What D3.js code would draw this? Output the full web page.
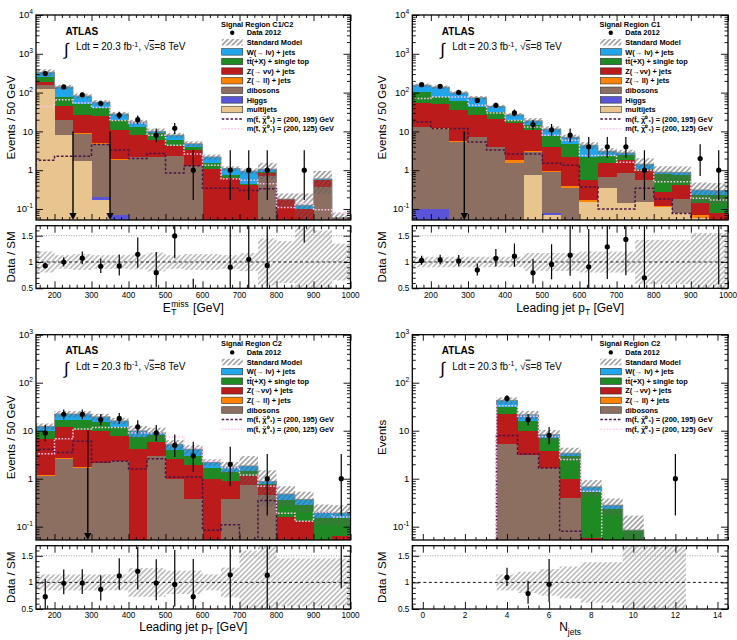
<!DOCTYPE html>
<html><head><meta charset="utf-8">
<script src="https://cdn.jsdelivr.net/npm/d3@7"></script>
<style>body{margin:0;background:#fff}svg{display:block}text{font-family:"Liberation Sans",Arial,sans-serif}</style>
</head><body><svg id="c" width="737" height="640"></svg>
<script>
// ---------------- DATA ----------------
const etEdges = [150,200,250,300,350,400,450,500,550,600,650,700,750,800,850,900,950,1000];
const njEdges = [3.5,4.5,5.5,6.5,7.5,8.5,9.5,10.5,11.5,12.5];

// Panel A: Signal Region C1/C2, E_T^miss
const A_multijets = [125,7.9,1.7,0.17,0,0,0,0,0,0,0,0,0,0,0,0,0];
const A_higgs     = [0,0,0,0.03,0.07,0,0,0,0,0,0,0,0,0,0,0,0];
const A_dibosons  = [28,11.4,7.1,4.6,1.8,2.2,2.2,2.3,1.3,0,0,0,0.7,0,0,0.37,0.06];
const A_zll       = [0.5,0.3,0.2,0.1,0.05,0.05,0.03,0.02,0.02,0,0,0,0,0,0,0,0];
const A_zvv       = [34,25,17,19.7,9.2,5.7,3.7,1.8,2.0,1.1,0.62,0.41,0.15,0.18,0.1,0.2,0];
const A_ttbar     = [70,33,24,16.5,9,5,2.9,2.0,0.7,0.45,0.15,0.04,0.07,0,0,0,0];
const A_wjets     = [76,62.7,32,15.5,8,4.5,1.2,1.9,0.8,0.65,0.34,0.5,0.15,0,0.025,0.03,0];
const A_data      = [310,140,88,52,26,20,8,12,1,0,1,1,1,0,1,0,0];
const A_unc       = [0.2,0.13,0.15,0.13,0.13,0.14,0.18,0.13,0.15,0.15,0.13,0.17,0.45,0.4,1.0,0.6,0.35];
const A_sig195    = [1.8,2.3,2.3,4.6,3.3,2.0,2.7,0.85,1.3,0.34,0.34,0.3,0.33,0,0,0,0];
const A_sig125    = [44,65,54,41,19,16.5,8,4.4,2.6,1.35,0.6,0.55,0.45,0.11,0.14,0.095,0.077];
const A_arrows    = [250,350];
const A_arrowTop  = [10,10];

// Panel B: Signal Region C1, leading jet pT
const B_multijets = [0,0,0,0,0,0,0.74,0.07,0,0.15,0.35,0.14,0.15,0.11,0.08,0.06,0];
const B_higgs     = [0.1,0.1,0,0,0,0,0,0.01,0,0,0,0,0,0,0,0,0];
const B_dibosons  = [12.9,11.6,5.2,7,3.9,1.55,2.26,0.8,0.35,0,0.32,0.71,0.4,0,0.1,0,0];
const B_zll       = [0.3,0.3,0.4,0.2,0.1,0.25,0.05,0.05,0.03,0.02,0,0,0,0.01,0,0.01,0];
const B_zvv       = [42,40,29.4,19,17,14.2,7.5,3.1,1.8,0.38,0.9,0.95,0.45,0.15,0.24,0.07,0.08];
const B_ttbar     = [48,25,25,16,10.5,4,3.7,3.5,2.5,1.65,0.8,0.6,0.1,0.54,0.33,0.09,0.15];
const B_wjets     = [52,62,39,32,12.5,7,4.6,4.0,2.4,2.2,0.73,0.4,0.33,0.08,0.13,0.08,0.07];
const B_data      = [160,145,101,63,47,30,15,11,8,4,4,4,1,0,0,2,1];
const B_unc       = [0.1,0.1,0.1,0.1,0.1,0.1,0.17,0.17,0.17,0.2,0.2,0.2,0.42,0.42,0.42,0.55,0.55];
const B_sig195    = [17.5,11.8,11.8,5.3,3.3,2.6,2.6,1.5,1.35,0.37,0.1,0.1,0.34,0.18,0.077,0,0];
const B_sig125    = [70,77,77,47,30,19,13,8,5.9,2.4,2.4,1.6,1.0,0.5,0.5,0.19,0.17];
const B_arrows    = [290];
const B_arrowTop  = [10];

// Panel C: Signal Region C2, leading jet pT
const C_dibosons  = [1.15,2.6,1.7,2.1,2.3,0,2.9,1.0,0.37,0,0.38,0.73,0.45,0,0,0,0];
const C_zll       = [0.05,0.05,0.05,0.05,0.03,0.02,0.02,0,0,0,0,0,0,0,0,0,0];
const C_zvv       = [5.6,9.1,8.8,7.6,5.6,4.1,2.8,1.6,1.6,0.98,0.52,0.4,0.3,0.16,0.13,0,0.063];
const C_ttbar     = [3,5.3,6.5,5.3,4,3.3,2.5,1.3,1.0,0.7,0.45,0.3,0.03,0.2,0.15,0.15,0.09];
const C_wjets     = [2.5,5.3,5.2,4.5,4.1,2.5,0.9,1.3,1.13,0.52,0.4,0.42,0.1,0.12,0.09,0.05,0.04];
const C_data      = [9,22,22,17,18,12,9,5,3,0,2,0,1,0,0,0,1];
const C_unc       = [0.15,0.15,0.15,0.15,0.15,0.27,0.27,0.22,0.22,0.15,0.28,0.6,0.7,0.45,0.45,0.45,0.45];
const C_sig195    = [4.1,3.5,6,2.2,2.3,1.6,2.6,1.08,1.08,0.084,0.11,0.03,0.35,0,0,0,0];
const C_sig125    = [3.3,6.8,10.8,11.7,11.7,9.0,9.0,7.4,4.4,2.3,1.7,1.2,0.7,0.19,0.13,0.2,0.16];
const C_arrows    = [290];
const C_arrowTop  = [10];

// Panel D: Signal Region C2, N jets
const D_dibosons  = [5.3,3.1,1.65,0.4,0,0,0,0,0];
const D_zll       = [0.1,0.05,0.02,0,0,0,0,0,0];
const D_zvv       = [17,6.6,2.05,0.58,0.058,0,0,0,0];
const D_ttbar     = [8.4,6,3.3,1.95,0.48,0.23,0.085,0,0];
const D_wjets     = [12.2,5.75,1.28,0.47,0.14,0.05,0,0,0];
const D_data      = [47,17,8,0,0,0,0,0,1];
const D_unc       = [0.15,0.2,0.25,0.3,0.38,0.38,1,1,1];
const D_sig195    = [7.9,3.26,1.67,0.08,0,0,0,0,0];
const D_sig125    = [33,20,7.6,2.5,0.55,0,0,0,0];

const etMajor = [200,300,400,500,600,700,800,900,1000];
const njMajor = [0,2,4,6,8,10,12,14];
const ratioMajor = [0.5,1,1.5];

const COLORS = {mj:"#e8c48e", higgs:"#5a55d8", dib:"#8d6f62", zll:"#ff8200", zvv:"#bb1b1b", tt:"#1f8a24", w:"#21a6ec"};
const SIG195 = "#4a1648", SIG125 = "#ffc6ef";

const legendTitles = ["Signal Region C1/C2","Signal Region C1","Signal Region C2","Signal Region C2"];

// ---------------- DRAW ----------------
const svg = d3.select("#c");
const defs = svg.append("defs");
function addHatch(id, color, sw){
  const p = defs.append("pattern").attr("id",id).attr("patternUnits","userSpaceOnUse")
    .attr("width",3.6).attr("height",3.6).attr("patternTransform","rotate(45)");
  p.append("line").attr("x1",1.8).attr("y1",0).attr("x2",1.8).attr("y2",3.6).attr("stroke",color).attr("stroke-width",sw);
}
addHatch("hatchMain","#5e5e5e",1.0);
addHatch("hatchRatio","#8c8c8c",1.0);

function poisson(n){
  if(n<=0) return [0,0];
  const lo = n*Math.pow(1-1/(9*n)-1/(3*Math.sqrt(n)),3);
  const hi = (n+1)*Math.pow(1-1/(9*(n+1))+1/(3*Math.sqrt(n+1)),3);
  return [lo,hi];
}

function seq(a,b,s){ const r=[]; for(let v=a; v<=b+1e-9; v+=s) r.push(+v.toFixed(4)); return r; }

function axisTicks(g, scale, orient, pos, vals, len){
  const ax = (orient==="bottom"?d3.axisBottom:orient==="top"?d3.axisTop:orient==="left"?d3.axisLeft:d3.axisRight)(scale)
    .tickValues(vals).tickSize(-len).tickFormat("");
  const gg = g.append("g").attr("transform", (orient==="bottom"||orient==="top")?`translate(0,${pos})`:`translate(${pos},0)`).call(ax);
  gg.select(".domain").remove();
  gg.selectAll("line").attr("stroke","#000").attr("stroke-width",0.9);
}

function superText(parent, x, y, base, sup, size, anchor){
  const t = parent.append("text").attr("x",x).attr("y",y).attr("font-size",size).attr("text-anchor",anchor||"start");
  t.append("tspan").text(base);
  if(sup!==null && sup!==undefined) t.append("tspan").attr("dy",-size*0.4).attr("font-size",size*0.7).text(sup);
  return t;
}

function drawPanel(P){
  const n = P.edges.length-1;
  const x = d3.scaleLinear().domain(P.xDomain).range([P.x0,P.x1]);
  const y = d3.scaleLog().domain(P.yDomain).range([P.my1,P.my0]);
  const yr = d3.scaleLinear().domain([0.5,1.69]).range([P.ry1,P.ry0]);
  const cx = i => x((P.edges[i]+P.edges[i+1])/2);
  defs.append("clipPath").attr("id","cm"+P.id).append("rect").attr("x",P.x0).attr("y",P.my0).attr("width",P.x1-P.x0).attr("height",P.my1-P.my0);
  defs.append("clipPath").attr("id","cr"+P.id).append("rect").attr("x",P.x0).attr("y",P.ry0).attr("width",P.x1-P.x0).attr("height",P.ry1-P.ry0);
  const gm = svg.append("g").attr("clip-path",`url(#cm${P.id})`);
  const yb = v => v>0 ? y(v) : P.my1+30;

  // stacked histograms
  const totals = d3.range(n).map(i=>d3.sum(P.comps,c=>c.vals[i]));
  for(let i=0;i<n;i++){
    let cum=0;
    P.comps.forEach(c=>{
      const v=c.vals[i];
      if(v>0){
        const t=y(cum+v), b=yb(cum);
        gm.append("rect").attr("x",x(P.edges[i])).attr("width",x(P.edges[i+1])-x(P.edges[i]))
          .attr("y",t).attr("height",Math.max(0,b-t)).attr("fill",COLORS[c.key]).attr("shape-rendering","crispEdges");
      }
      cum+=v;
    });
  }
  // SM uncertainty hatch
  for(let i=0;i<n;i++){
    const t=totals[i]; if(!(t>0)) continue;
    const hi=t*(1+P.unc[i]), lo=t*(1-P.unc[i]);
    const ty=y(hi), by=yb(lo);
    gm.append("rect").attr("x",x(P.edges[i])).attr("width",x(P.edges[i+1])-x(P.edges[i]))
      .attr("y",ty).attr("height",Math.max(0,by-ty)).attr("fill","url(#hatchMain)");
  }
  const stepPath = vals => {
    let d = `M${x(P.edges[0])},${P.my1+30}`;
    for(let i=0;i<n;i++){ const yy=yb(vals[i]); d+=`L${x(P.edges[i])},${yy}L${x(P.edges[i+1])},${yy}`; }
    d+=`L${x(P.edges[n])},${P.my1+30}`; return d;
  };
  gm.append("path").attr("d",stepPath(totals)).attr("fill","none").attr("stroke","#8a8a8a").attr("stroke-width",0.9);
  gm.append("path").attr("d",stepPath(P.sig195)).attr("fill","none").attr("stroke",SIG195).attr("stroke-width",1.5).attr("stroke-dasharray","2.6,1.8");
  gm.append("path").attr("d",stepPath(P.sig125)).attr("fill","none").attr("stroke",SIG125).attr("stroke-width",1.5).attr("stroke-dasharray","1.6,1.6");
  (P.arrows||[]).forEach((a,k)=>{
    const xx=x(a);
    gm.append("line").attr("x1",xx).attr("x2",xx).attr("y1",y(P.arrowTop[k])).attr("y2",P.my1-6).attr("stroke","#000").attr("stroke-width",1.4);
    gm.append("path").attr("d",`M${xx-3.6},${P.my1-7}L${xx+3.6},${P.my1-7}L${xx},${P.my1}Z`).attr("fill","#000");
  });
  for(let i=0;i<n;i++){
    const d=P.data[i]; if(d<=0) continue;
    const [lo,hi]=poisson(d);
    gm.append("line").attr("x1",cx(i)).attr("x2",cx(i)).attr("y1",yb(lo)).attr("y2",y(hi)).attr("stroke","#000").attr("stroke-width",1.2);
    gm.append("circle").attr("cx",cx(i)).attr("cy",y(d)).attr("r",2.6).attr("fill","#000");
  }
  const ga = svg.append("g");
  const lo10 = Math.ceil(Math.log10(P.yDomain[0])), hi10 = Math.floor(Math.log10(P.yDomain[1]));
  const yMaj = d3.range(lo10,hi10+1).map(p=>Math.pow(10,p));
  const yMin = [];
  for(let p=lo10-1;p<=hi10;p++) for(let m=2;m<=9;m++){ const v=m*Math.pow(10,p); if(v>=P.yDomain[0]&&v<=P.yDomain[1]) yMin.push(v); }
  axisTicks(ga,y,"left",P.x0,yMaj,7); axisTicks(ga,y,"left",P.x0,yMin,3.5);
  axisTicks(ga,y,"right",P.x1,yMaj,7); axisTicks(ga,y,"right",P.x1,yMin,3.5);
  axisTicks(ga,x,"bottom",P.my1,P.xMajor,6); axisTicks(ga,x,"bottom",P.my1,P.xMinor,3);
  axisTicks(ga,x,"top",P.my0,P.xMajor,6); axisTicks(ga,x,"top",P.my0,P.xMinor,3);
  ga.append("rect").attr("x",P.x0).attr("y",P.my0).attr("width",P.x1-P.x0).attr("height",P.my1-P.my0).attr("fill","none").attr("stroke","#000").attr("stroke-width",1.3);
  yMaj.forEach(v=>{
    const p=Math.round(Math.log10(v));
    const base = p===0?"1":"10", sup = (p===0||p===1)?null:String(p);
    superText(ga,P.x0-3,y(v)+3.3,base,sup,9.5,"end");
  });

  const gr = svg.append("g").attr("clip-path",`url(#cr${P.id})`);
  for(let i=0;i<n;i++){
    const u=P.unc[i];
    gr.append("rect").attr("x",x(P.edges[i])).attr("width",x(P.edges[i+1])-x(P.edges[i]))
      .attr("y",yr(1+u)).attr("height",yr(1-u)-yr(1+u)).attr("fill","url(#hatchRatio)");
  }
  gr.append("line").attr("x1",P.x0).attr("x2",P.x1).attr("y1",yr(1.5)).attr("y2",yr(1.5)).attr("stroke","#999").attr("stroke-width",0.9).attr("stroke-dasharray","1,1.5");
  gr.append("line").attr("x1",P.x0).attr("x2",P.x1).attr("y1",yr(1)).attr("y2",yr(1)).attr("stroke","#000").attr("stroke-width",0.9).attr("stroke-dasharray","3,2.5");
  for(let i=0;i<n;i++){
    const d=P.data[i], t=totals[i]; if(d<=0||!(t>0)) continue;
    const [lo,hi]=poisson(d);
    gr.append("line").attr("x1",cx(i)).attr("x2",cx(i)).attr("y1",yr(lo/t)).attr("y2",yr(hi/t)).attr("stroke","#000").attr("stroke-width",1.2);
    gr.append("circle").attr("cx",cx(i)).attr("cy",yr(d/t)).attr("r",2.6).attr("fill","#000");
  }
  const gb = svg.append("g");
  axisTicks(gb,yr,"left",P.x0,ratioMajor,7); axisTicks(gb,yr,"left",P.x0,P.rMinor,3.5);
  axisTicks(gb,yr,"right",P.x1,ratioMajor,7); axisTicks(gb,yr,"right",P.x1,P.rMinor,3.5);
  axisTicks(gb,x,"bottom",P.ry1,P.xMajor,7); axisTicks(gb,x,"bottom",P.ry1,P.xMinor,3.5);
  axisTicks(gb,x,"top",P.ry0,P.xMajor,7); axisTicks(gb,x,"top",P.ry0,P.xMinor,3.5);
  gb.append("rect").attr("x",P.x0).attr("y",P.ry0).attr("width",P.x1-P.x0).attr("height",P.ry1-P.ry0).attr("fill","none").attr("stroke","#000").attr("stroke-width",1.3);
  ratioMajor.forEach(v=>gb.append("text").attr("x",P.x0-3).attr("y",yr(v)+3).attr("text-anchor","end").attr("font-size",8.2).text(String(v)));
  P.xMajor.forEach(v=>gb.append("text").attr("x",x(v)).attr("y",P.ry1+9.2).attr("text-anchor","middle").attr("font-size",8.2).text(String(v)));

  svg.append("text").attr("transform",`translate(${P.ytx},${(P.my0+P.my1)/2}) rotate(-90)`).attr("text-anchor","middle").attr("font-size",11.5).text(P.ytitle);
  svg.append("text").attr("transform",`translate(${P.ytx},${(P.ry0+P.ry1)/2}) rotate(-90)`).attr("text-anchor","middle").attr("font-size",11.5).text("Data / SM");
  P.xtitle(svg, (P.x0+P.x1)/2, P.xty);

  const lx = P.x0+29.5;
  svg.append("text").attr("x",lx).attr("y",P.my0+19.5).attr("font-size",10).attr("font-weight","bold").text("ATLAS");
  svg.append("text").attr("x",lx-1.5).attr("y",P.my0+39.5).attr("font-size",17).attr("font-family","DejaVu Sans").text("∫");
  const lt = svg.append("text").attr("x",lx+10.5).attr("y",P.my0+35).attr("font-size",10);
  lt.append("tspan").text("Ldt = 20.3 fb");
  lt.append("tspan").attr("dy",-3.5).attr("font-size",7).text("-1");
  lt.append("tspan").attr("dy",3.5).text(", √");
  lt.append("tspan").attr("text-decoration","overline").text("s");
  lt.append("tspan").text("=8 TeV");

  const L = P.legend;
  svg.append("text").attr("x",L.x-0.7).attr("y",P.my0+11.7).attr("font-size",7.4).attr("font-weight","bold").text(L.title);
  L.items.forEach((it,k)=>{
    const cy = P.my0+17.7+k*9.6, bx=L.x, bw=21, bh=6.5;
    if(it.type==="dot") svg.append("circle").attr("cx",bx+10.5).attr("cy",cy).attr("r",2.2).attr("fill","#000");
    else if(it.type==="hatch") svg.append("rect").attr("x",bx).attr("y",cy-bh/2).attr("width",bw).attr("height",bh).attr("fill","url(#hatchMain)");
    else if(it.type==="box") svg.append("rect").attr("x",bx).attr("y",cy-bh/2).attr("width",bw).attr("height",bh).attr("fill",it.color).attr("stroke","#333").attr("stroke-width",0.6);
    else if(it.type==="s195") svg.append("line").attr("x1",bx).attr("x2",bx+bw).attr("y1",cy).attr("y2",cy).attr("stroke",SIG195).attr("stroke-width",1.5).attr("stroke-dasharray","2.6,1.8");
    else if(it.type==="s125") svg.append("line").attr("x1",bx).attr("x2",bx+bw).attr("y1",cy).attr("y2",cy).attr("stroke",SIG125).attr("stroke-width",1.5).attr("stroke-dasharray","1.6,1.6");
    svg.append("text").attr("x",bx+25).attr("y",cy+2.6).attr("font-size",7.4).attr("font-weight","bold").text(it.label);
  });
}

function legendItems(zvvLabel, withExtra){
  const it = [
    {type:"dot",label:"Data 2012"},
    {type:"hatch",label:"Standard Model"},
    {type:"box",color:COLORS.w,label:"W(→ lν) + jets"},
    {type:"box",color:COLORS.tt,label:"tt̄(+X) + single top"},
    {type:"box",color:COLORS.zvv,label:zvvLabel},
    {type:"box",color:COLORS.zll,label:"Z(→ ll) + jets"},
    {type:"box",color:COLORS.dib,label:"dibosons"}];
  if(withExtra){ it.push({type:"box",color:COLORS.higgs,label:"Higgs"}); it.push({type:"box",color:COLORS.mj,label:"multijets"}); }
  it.push({type:"s195",label:"m(t̃, χ̃⁰₁) = (200, 195) GeV"});
  it.push({type:"s125",label:"m(t̃, χ̃⁰₁) = (200, 125) GeV"});
  return it;
}

function xtitleMET(s,cx,cy){
  // one text element: E, subscript T, superscript miss stacked over T, then [GeV]
  const t=s.append("text").attr("y",cy).attr("font-size",12);
  const sE=t.append("tspan").attr("x",0).text("E");
  const wE=sE.node().getComputedTextLength();
  const sT=t.append("tspan").attr("x",wE+0.5).attr("dy",3).attr("font-size",8.5).text("T");
  const sM=t.append("tspan").attr("x",wE+0.5).attr("dy",-8.5).attr("font-size",8.5).text("miss");
  const wM=sM.node().getComputedTextLength();
  const sG=t.append("tspan").attr("x",wE+wM+1.5).attr("dy",5.5).text(" [GeV]");
  const w=wE+wM+1.5+sG.node().getComputedTextLength();
  t.attr("transform",`translate(${cx-w/2},0)`);
}
function xtitlePt(s,cx,cy){
  const t=s.append("text").attr("x",cx).attr("y",cy).attr("font-size",12).attr("text-anchor","middle");
  t.append("tspan").text("Leading jet p");
  t.append("tspan").attr("dy",3).attr("font-size",8.5).text("T");
  t.append("tspan").attr("dy",-3).text(" [GeV]");
}
function xtitleNj(s,cx,cy){
  const t=s.append("text").attr("x",cx).attr("y",cy).attr("font-size",12).attr("text-anchor","middle");
  t.append("tspan").text("N");
  t.append("tspan").attr("dy",3.5).attr("font-size",8.5).text("jets");
}

const etMinor = seq(160,1000,20).filter(v=>v%100!==0);
const njMinor = seq(-0.5,14.5,0.5).filter(v=>v%2!==0);
const rMinor = seq(0.5,1.65,0.1).filter(v=>Math.abs(v-1)>1e-6&&Math.abs(v-0.5)>1e-6&&Math.abs(v-1.5)>1e-6);

const rowTop = {my0:15, my1:220, ry0:225.7, ry1:288.3, xty:312, yDomain:[0.052,1e4]};
const rowBot = {my0:334.7, my1:540, ry0:545.7, ry1:609, xty:631, yDomain:[0.0528,1e3]};
const colL = {x0:36, x1:350.5, ytx:15}, colR = {x0:412.3, x1:728, ytx:386};

drawPanel(Object.assign({id:"A", edges:etEdges, xDomain:[150,1000], xMajor:etMajor, xMinor:etMinor, rMinor,
  comps:[{key:"mj",vals:A_multijets},{key:"higgs",vals:A_higgs},{key:"dib",vals:A_dibosons},{key:"zll",vals:A_zll},{key:"zvv",vals:A_zvv},{key:"tt",vals:A_ttbar},{key:"w",vals:A_wjets}],
  data:A_data, unc:A_unc, sig195:A_sig195, sig125:A_sig125, arrows:A_arrows, arrowTop:A_arrowTop,
  ytitle:"Events / 50 GeV", xtitle:xtitleMET,
  legend:{x:221.7, title:legendTitles[0], items:legendItems("Z(→ νν) + jets",true)}}, rowTop, colL));

drawPanel(Object.assign({id:"B", edges:etEdges, xDomain:[150,1000], xMajor:etMajor, xMinor:etMinor, rMinor,
  comps:[{key:"mj",vals:B_multijets},{key:"higgs",vals:B_higgs},{key:"dib",vals:B_dibosons},{key:"zll",vals:B_zll},{key:"zvv",vals:B_zvv},{key:"tt",vals:B_ttbar},{key:"w",vals:B_wjets}],
  data:B_data, unc:B_unc, sig195:B_sig195, sig125:B_sig125, arrows:B_arrows, arrowTop:B_arrowTop,
  ytitle:"Events / 50 GeV", xtitle:xtitlePt,
  legend:{x:600.3, title:legendTitles[1], items:legendItems("Z(→νν) + jets",true)}}, rowTop, colR));

drawPanel(Object.assign({id:"C", edges:etEdges, xDomain:[150,1000], xMajor:etMajor, xMinor:etMinor, rMinor,
  comps:[{key:"dib",vals:C_dibosons},{key:"zll",vals:C_zll},{key:"zvv",vals:C_zvv},{key:"tt",vals:C_ttbar},{key:"w",vals:C_wjets}],
  data:C_data, unc:C_unc, sig195:C_sig195, sig125:C_sig125, arrows:C_arrows, arrowTop:C_arrowTop,
  ytitle:"Events / 50 GeV", xtitle:xtitlePt,
  legend:{x:221.7, title:legendTitles[2], items:legendItems("Z(→νν) + jets",false)}}, rowBot, colL));

drawPanel(Object.assign({id:"D", edges:njEdges, xDomain:[-0.5,14.5], xMajor:njMajor, xMinor:njMinor, rMinor,
  comps:[{key:"dib",vals:D_dibosons},{key:"zll",vals:D_zll},{key:"zvv",vals:D_zvv},{key:"tt",vals:D_ttbar},{key:"w",vals:D_wjets}],
  data:D_data, unc:D_unc, sig195:D_sig195, sig125:D_sig125, arrows:[], arrowTop:[],
  ytitle:"Events", xtitle:xtitleNj,
  legend:{x:600.3, title:legendTitles[3], items:legendItems("Z(→νν) + jets",false)}}, rowBot, colR));
</script></body></html>
